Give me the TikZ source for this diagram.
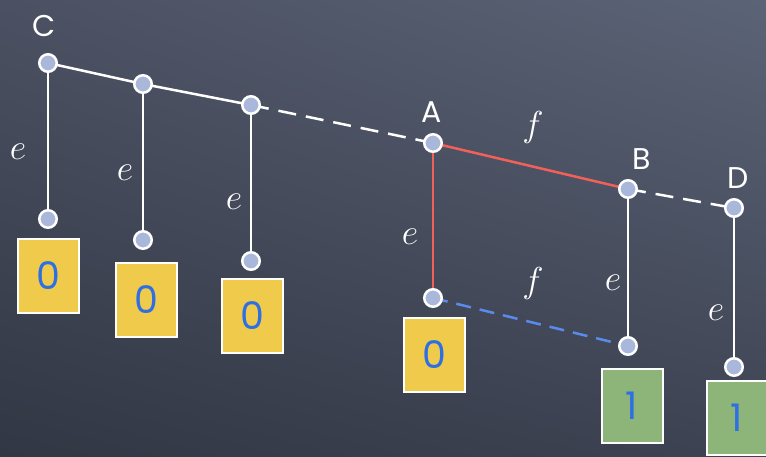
\RequirePackage{fix-cm}
\documentclass[tikz,border=0pt]{standalone}
\usepackage{fontspec}
\usetikzlibrary{shadings}
\newfontfamily\chalk{Poppins}
\definecolor{boardUL}{HTML}{4B5162}
\definecolor{boardUR}{HTML}{5B6376}
\definecolor{boardLL}{HTML}{323744}
\definecolor{boardLR}{HTML}{3D4352}
\definecolor{dotfill}{HTML}{A8B7DA}
\definecolor{zerofill}{HTML}{F0CB4B}
\definecolor{onefill}{HTML}{8DB479}
\definecolor{digitblue}{HTML}{2E6FE3}
\definecolor{hotred}{HTML}{F2605A}
\definecolor{coolblue}{HTML}{5A8BEB}
\tikzset{
  dot/.style={circle, draw=white, line width=2.5pt, fill=dotfill, minimum size=17.5pt, inner sep=0pt},
  edge/.style={draw=white, line width=2.5pt},
  gap/.style={edge, dash pattern=on 18pt off 10pt},
  redge/.style={draw=hotred, line width=2.5pt},
  bedge/.style={draw=coolblue, line width=2.5pt, dash pattern=on 15pt off 9pt},
  tag/.style={text=white, font=\chalk\fontsize{30}{32}\selectfont, inner sep=0pt},
  lbl/.style={text=white, font=\fontsize{36}{40}\selectfont, inner sep=0pt},
  leafbox/.style={draw=white, line width=2pt, minimum width=61pt, minimum height=74pt, inner sep=0pt,
    text=digitblue, font=\chalk\fontsize{38}{40}\selectfont},
  zero/.style={leafbox, fill=zerofill},
  one/.style={leafbox, fill=onefill}
}
\begin{document}
\begin{tikzpicture}[x=1pt, y=-1pt]
  \useasboundingbox (0,0) rectangle (766,456);
  \clip (0,0) rectangle (766,456);
  \shade[upper left=boardUL, upper right=boardUR, lower left=boardLL, lower right=boardLR]
    (0,456) rectangle (766,0);

  % leaf boxes
  \node[zero] (z1) at (48,276) {0};
  \node[zero] (z2) at (146.5,300) {0};
  \node[zero] (z3) at (252,315.5) {0};
  \node[zero] (z4) at (434,355) {0};
  \node[one]  (o1) at (632,405.5) {1};
  \node[one]  (o2) at (737,418) {1};

  % tree nodes
  \coordinate (c)  at (48,63);
  \coordinate (n2) at (143,84);
  \coordinate (n3) at (251,105);
  \coordinate (a)  at (433,143);
  \coordinate (b)  at (628,189);
  \coordinate (d)  at (734,208);
  \coordinate (l1) at (48,219);
  \coordinate (l2) at (143,240);
  \coordinate (l3) at (251,261);
  \coordinate (la) at (433,298);
  \coordinate (lb) at (628,346);
  \coordinate (ld) at (734,367);

  % connectors
  \draw[edge] (c) -- (n2) -- (n3);
  \draw[gap] (n3) -- (a);
  \draw[gap] (b) -- (d);
  \draw[edge] (c) -- (l1);
  \draw[edge] (n2) -- (l2);
  \draw[edge] (n3) -- (l3);
  \draw[edge] (b) -- (lb);
  \draw[edge] (d) -- (ld);
  \draw[redge] (a) -- (b);
  \draw[redge] (a) -- (la);
  \draw[bedge] (la) -- (lb);

  \foreach \p in {c,n2,n3,a,b,d,l1,l2,l3,la,lb,ld}
    \node[dot] (dot-\p) at (\p) {};

  % names
  \node[tag] (tc) at (44,26) {C};
  \node[tag] (ta) at (432,112) {A};
  \node[tag] (tb) at (642,159) {B};
  \node[tag] (td) at (738,178) {D};

  % edge labels
  \node[lbl] (e1) at (18,152) {$e$};
  \node[lbl] (e2) at (125,173) {$e$};
  \node[lbl] (e3) at (234,202) {$e$};
  \node[lbl] (e4) at (410,237) {$e$};
  \node[lbl] (e5) at (613,283) {$e$};
  \node[lbl] (e6) at (716,313) {$e$};
  \node[lbl] (f1) at (533,127) {$f$};
  \node[lbl] (f2) at (533,283) {$f$};
\end{tikzpicture}
\end{document}
